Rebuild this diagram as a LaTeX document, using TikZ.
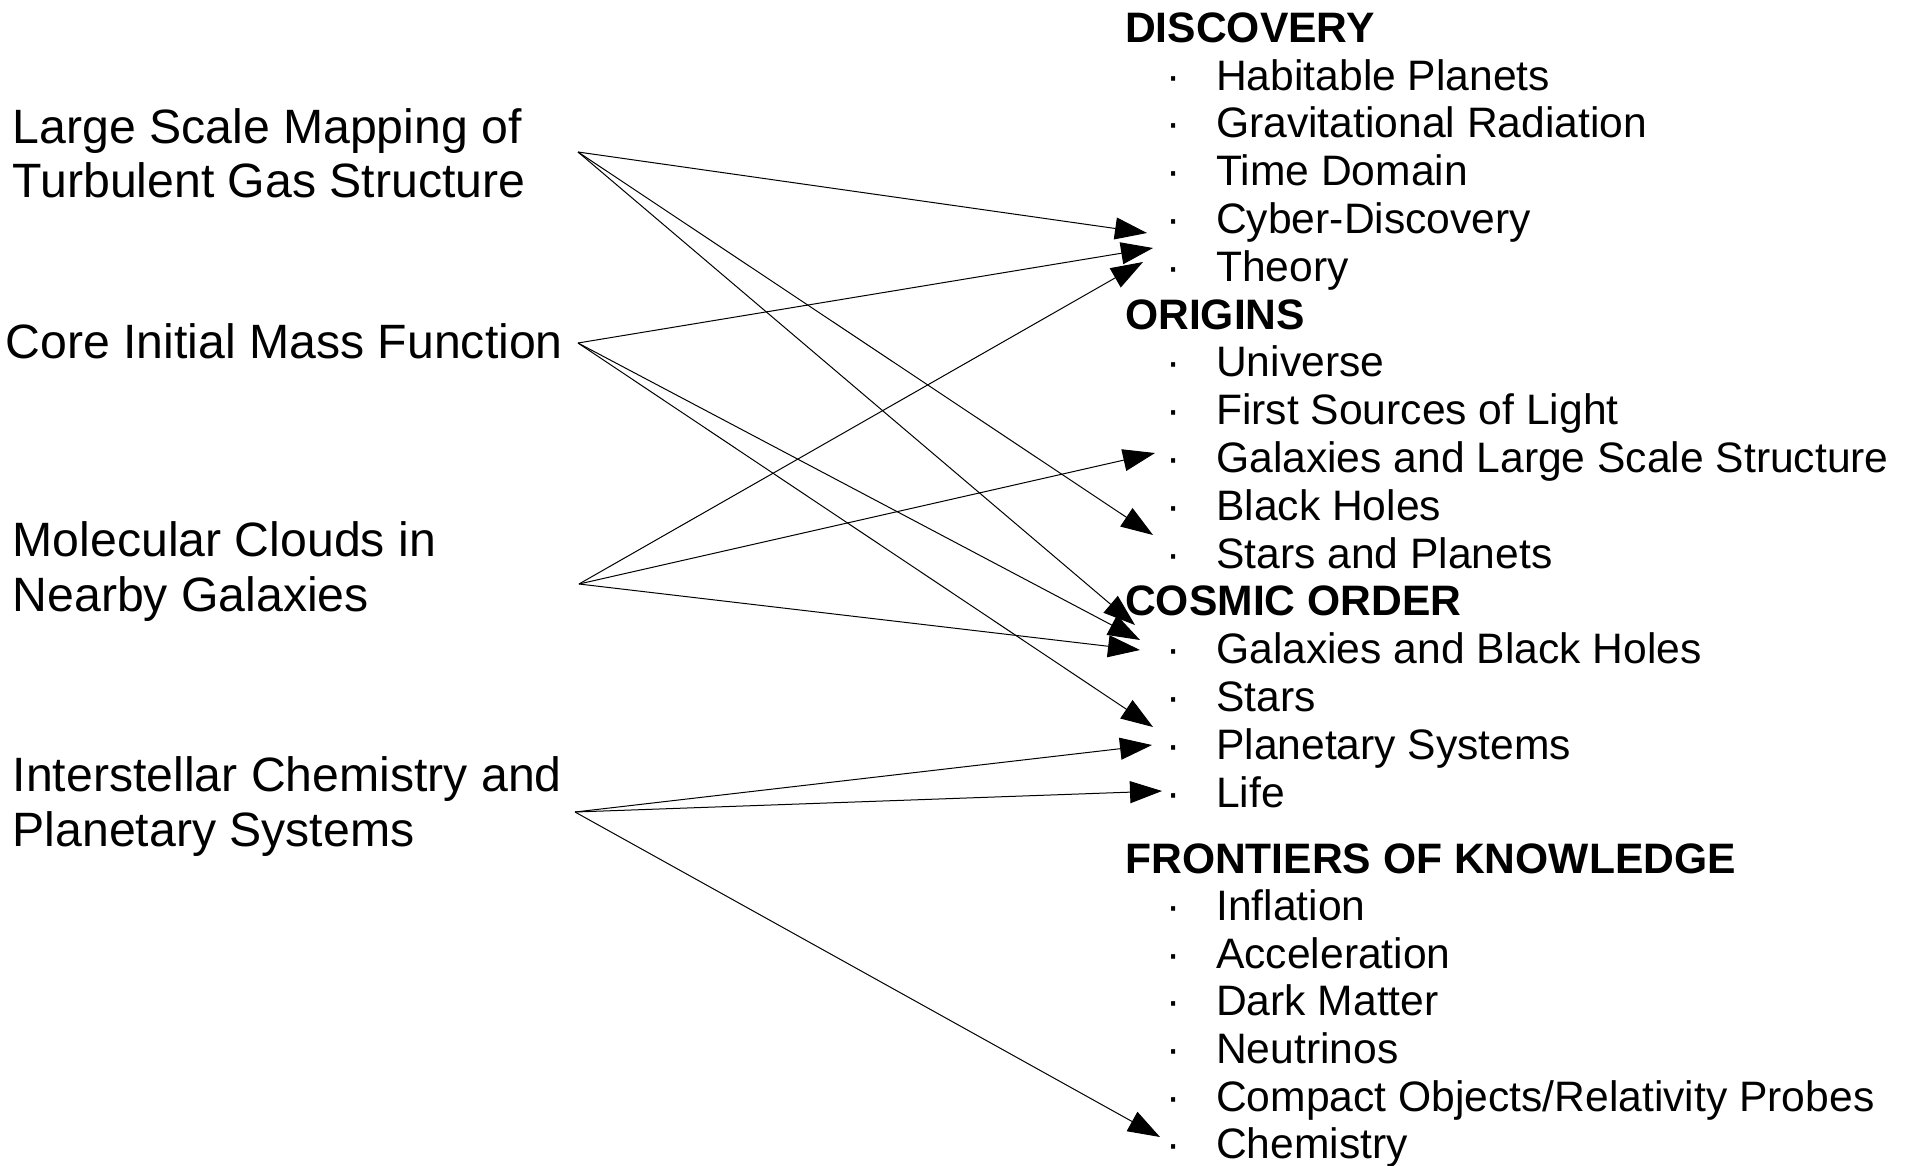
\documentclass[tikz,border=0pt]{standalone}
\usepackage{fontspec}
\setmainfont{Liberation Sans}
\usetikzlibrary{arrows.meta}
\begin{document}
\begin{tikzpicture}[x=1pt,y=-1pt,
  lefttext/.style={anchor=base west, inner sep=0pt, font=\fontsize{48.2}{54}\selectfont},
  itemtext/.style={anchor=base west, inner sep=0pt, font=\fontsize{42.6}{47.8}\selectfont},
  headtext/.style={anchor=base west, inner sep=0pt, font=\fontsize{42.6}{47.8}\selectfont\bfseries},
  bullet/.style={anchor=base, inner sep=0pt, font=\fontsize{42.6}{47.8}\selectfont},
  link/.style={line width=1pt, -{Triangle[length=32pt,width=22pt]}}]
\useasboundingbox (0,0) rectangle (1910,1165);
% left texts
\node[lefttext] (l1a) at (12.5,143) {Large Scale Mapping of};
\node[lefttext] (l1b) at (12.5,197) {Turbulent Gas Structure};
\node[lefttext] (l2) at (5.5,358) {Core Initial Mass Function};
\node[lefttext] (l3a) at (12.5,556) {Molecular Clouds in};
\node[lefttext] (l3b) at (12.5,611) {Nearby Galaxies};
\node[lefttext] (l4a) at (12.5,791) {Interstellar Chemistry and};
\node[lefttext] (l4b) at (12.5,846) {Planetary Systems};
% right headers
\node[headtext] (h1) at (1125,42) {DISCOVERY};
\node[headtext] (h2) at (1125,329) {ORIGINS};
\node[headtext] (h3) at (1125,615.5) {COSMIC ORDER};
\node[headtext] (h4) at (1125,873) {FRONTIERS OF KNOWLEDGE};
% items
\foreach \n/\y/\t in {
  r1/90/{Habitable Planets},
  r2/137.8/{Gravitational Radiation},
  r3/185.6/{Time Domain},
  r4/233.4/{Cyber-Discovery},
  r5/281.2/{Theory},
  r6/376.8/{Universe},
  r7/424.6/{First Sources of Light},
  r8/472.4/{Galaxies and Large Scale Structure},
  r9/520.2/{Black Holes},
  r10/568/{Stars and Planets},
  r11/663.6/{Galaxies and Black Holes},
  r12/711.4/{Stars},
  r13/759.2/{Planetary Systems},
  r14/807/{Life},
  r15/920.5/{Inflation},
  r16/968.2/{Acceleration},
  r17/1015.8/{Dark Matter},
  r18/1063.5/{Neutrinos},
  r19/1111/{Compact Objects/Relativity Probes},
  r20/1158.5/{Chemistry}}{
  \node[bullet] (b\n) at (1173.3,\y) {·};
  \node[itemtext] (\n) at (1216,\y) {\t};
}
% sources
\coordinate (sA) at (578,152);
\coordinate (sB) at (578,343);
\coordinate (sC) at (579,584);
\coordinate (sD) at (575,812);
% targets
\coordinate (tA1) at (1147,233);
\coordinate (tA2) at (1153,535);
\coordinate (tA3) at (1135,625);
\coordinate (tB1) at (1153,248);
\coordinate (tB2) at (1140,640);
\coordinate (tB3) at (1153,727);
\coordinate (tC1) at (1143,262);
\coordinate (tC2) at (1155,453);
\coordinate (tC3) at (1140,650);
\coordinate (tD1) at (1152,745);
\coordinate (tD2) at (1162,791);
\coordinate (tD3) at (1160,1137);
\draw[link] (sA) -- (tA1);
\draw[link] (sA) -- (tA2);
\draw[link] (sA) -- (tA3);
\draw[link] (sB) -- (tB1);
\draw[link] (sB) -- (tB2);
\draw[link] (sB) -- (tB3);
\draw[link] (sC) -- (tC1);
\draw[link] (sC) -- (tC2);
\draw[link] (sC) -- (tC3);
\draw[link] (sD) -- (tD1);
\draw[link] (sD) -- (tD2);
\draw[link] (sD) -- (tD3);
\end{tikzpicture}
\end{document}
